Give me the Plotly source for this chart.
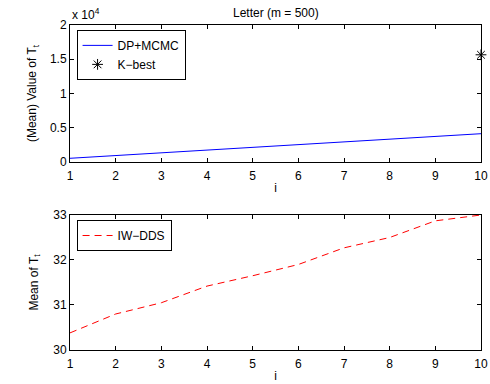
import plotly.graph_objects as go

i_vals = [1, 2, 3, 4, 5, 6, 7, 8, 9, 10]
dp_mcmc = [540, 940, 1340, 1740, 2130, 2530, 2930, 3330, 3730, 4130]
kbest_x = [10]
kbest_y = [15650]
iw_dds = [30.38, 30.8, 31.05, 31.42, 31.65, 31.9, 32.27, 32.5, 32.87, 33.0]

top_ticks = [0, 5000, 10000, 15000, 20000]
top_ticktext = ["0", "0.5", "1", "1.5", "2"]
bot_ticks = [30, 31, 32, 33]

FONT = "Liberation Sans, Arial, sans-serif"
FS = 12

fig = go.Figure()
fig.add_trace(go.Scatter(x=i_vals, y=dp_mcmc, mode="lines", name="DP+MCMC",
                         line=dict(color="#0000FF", width=1), xaxis="x", yaxis="y", legend="legend"))
fig.add_trace(go.Scatter(x=kbest_x, y=kbest_y, mode="markers", name="K\u2212best",
                         marker=dict(symbol="asterisk-open", size=9, color="black",
                                     line=dict(color="black", width=1)),
                         xaxis="x", yaxis="y", legend="legend", cliponaxis=False))
fig.add_trace(go.Scatter(x=i_vals, y=iw_dds, mode="lines", name="IW\u2212DDS",
                         line=dict(color="#FF0000", width=1, dash="7px,5px"),
                         xaxis="x2", yaxis="y2", legend="legend2"))

axis_common = dict(showgrid=False, zeroline=False, showline=True, linecolor="black",
                   linewidth=1, mirror="ticks", ticks="inside", ticklen=4, tickcolor="black",
                   automargin=False,
                   tickfont=dict(family=FONT, size=FS, color="black"))

fig.update_layout(
    width=490, height=384,
    margin=dict(l=70, r=9, t=25, b=34, autoexpand=False),
    paper_bgcolor="white", plot_bgcolor="white",
    font=dict(family=FONT, size=FS, color="black"),
    xaxis=dict(domain=[0, 1], anchor="y", range=[1, 10], tickvals=i_vals, ticklabelstandoff=3,
               title=dict(text="i", standoff=1, font=dict(size=FS)), **axis_common),
    yaxis=dict(domain=[0.5785, 1], anchor="x", range=[0, 20000], tickvals=top_ticks,
               ticktext=top_ticktext,
               title=dict(text="(Mean) Value of T<sub>t</sub>", standoff=10, font=dict(size=FS)),
               **axis_common),
    xaxis2=dict(domain=[0, 1], anchor="y2", range=[1, 10], tickvals=i_vals, ticklabelstandoff=3,
                title=dict(text="i", standoff=1, font=dict(size=FS)), **axis_common),
    yaxis2=dict(domain=[0, 0.4154], anchor="x2", range=[30, 33], tickvals=bot_ticks,
                title=dict(text="Mean of T<sub>t</sub>", standoff=12, font=dict(size=FS)),
                **axis_common),
    legend=dict(x=0.016, y=0.985, xanchor="left", yanchor="top", xref="paper", yref="paper",
                bgcolor="white", bordercolor="black", borderwidth=1,
                font=dict(family=FONT, size=FS), tracegroupgap=0, itemwidth=30),
    legend2=dict(x=0.016, y=0.4, xanchor="left", yanchor="top", xref="paper", yref="paper",
                 bgcolor="white", bordercolor="black", borderwidth=1,
                 font=dict(family=FONT, size=FS), itemwidth=30),
    annotations=[
        dict(text="Letter (m = 500)", x=0.5, y=1, xref="paper", yref="paper",
             xanchor="center", yanchor="bottom", yshift=3, showarrow=False,
             font=dict(family=FONT, size=FS)),
        dict(text="x 10<sup>4</sup>", x=0, y=1, xref="paper", yref="paper",
             xanchor="left", yanchor="bottom", yshift=1, showarrow=False,
             font=dict(family=FONT, size=FS)),
    ],
)

fig.write_html("out.html")
